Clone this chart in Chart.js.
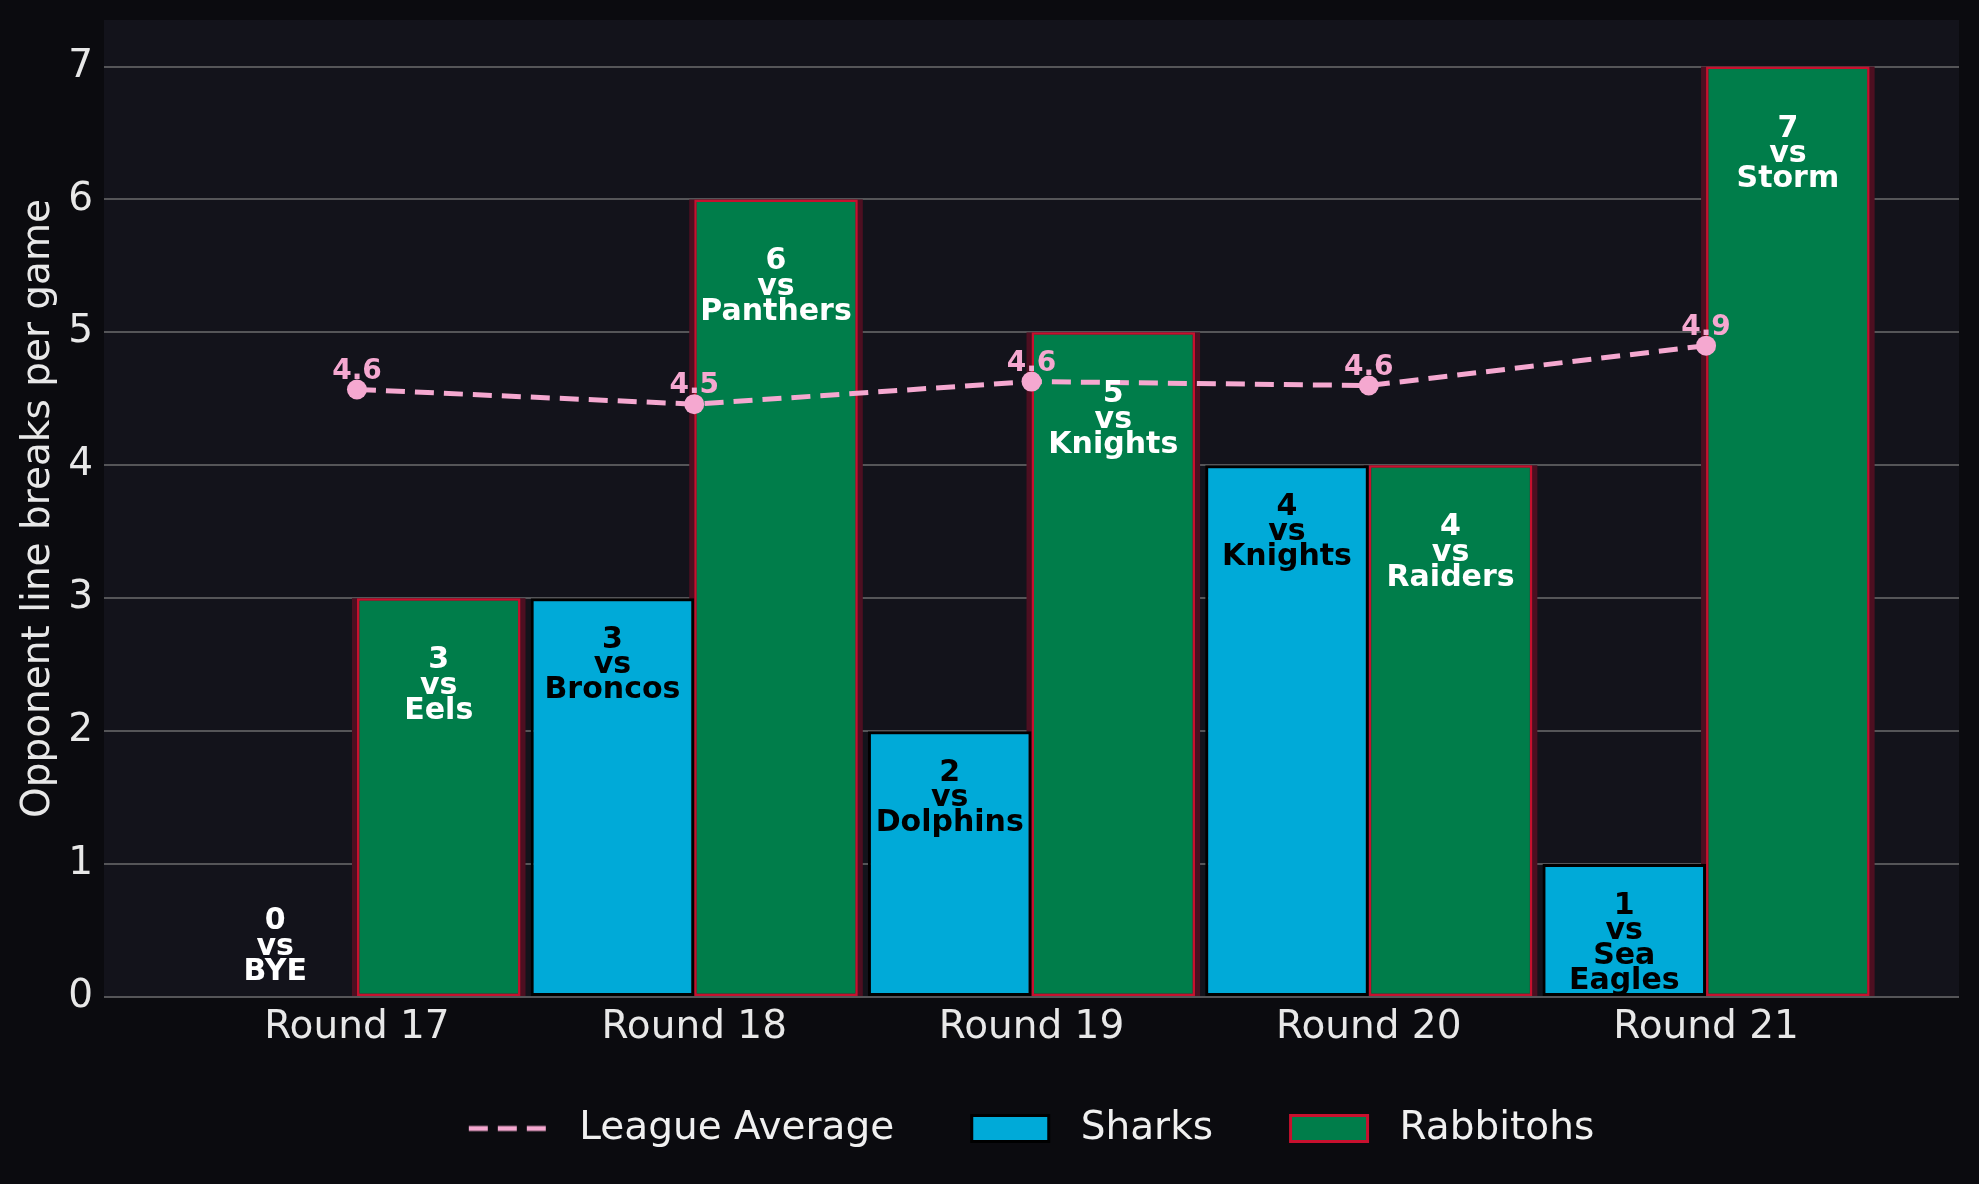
<!DOCTYPE html>
<html><head><meta charset="utf-8">
<script src="https://cdn.jsdelivr.net/npm/chart.js@4.4.1/dist/chart.umd.min.js"></script>
<style>html,body{margin:0;padding:0;background:#0b0b0f;}canvas{display:block;}</style>
</head><body>
<canvas id="c" width="1979" height="1184"></canvas>
<script>
const categories = ['Round 17', 'Round 18', 'Round 19', 'Round 20', 'Round 21'];
const sharksValues = [0, 3, 2, 4, 1];
const rabbitohsValues = [3, 6, 5, 4, 7];
const leagueAverage = [4.57, 4.46, 4.63, 4.60, 4.90];
const sharksOpponents = ['BYE', 'Broncos', 'Dolphins', 'Knights', 'Sea Eagles'];
const rabbitohsOpponents = ['Eels', 'Panthers', 'Knights', 'Raiders', 'Storm'];
const yTickValues = [0, 1, 2, 3, 4, 5, 6, 7];

const FONT = '"DejaVu Sans", "Liberation Sans", sans-serif';
const BLUE = '#00aad8', GREEN = '#007d4a', RED = '#c8102e', PINK = '#f5a8d0';
const TEXT = '#e8e8e8';
const SW_LEFT = 9, SW_W = 100;

function makeSwatch(kind) {
  const c = document.createElement('canvas');
  c.width = SW_W; c.height = kind === 'line' ? 10 : 29;
  const g = c.getContext('2d');
  if (kind === 'line') {
    g.strokeStyle = PINK; g.lineWidth = 5; g.setLineDash([19, 10]);
    g.beginPath(); g.moveTo(SW_LEFT, 5); g.lineTo(SW_LEFT + 79, 5); g.stroke();
  } else {
    g.fillStyle = kind === 'sharks' ? BLUE : GREEN;
    g.fillRect(SW_LEFT, 0, 80, 29);
    g.strokeStyle = kind === 'sharks' ? '#000' : RED;
    g.lineWidth = 3;
    g.strokeRect(SW_LEFT + 1.5, 1.5, 77, 26);
  }
  return c;
}
const swatches = [makeSwatch('line'), makeSwatch('sharks'), makeSwatch('rabbitohs')];

const bgPlugin = {
  id: 'bg',
  afterLayout(chart) {
    if (chart.legend) { chart.legend.left -= SW_LEFT / 2; chart.legend.right -= SW_LEFT / 2; }
  },
  beforeDraw(chart) {
    const {ctx, chartArea: a} = chart;
    ctx.save();
    ctx.fillStyle = '#0b0b0f';
    ctx.fillRect(0, 0, chart.width, chart.height);
    ctx.fillStyle = '#13131b';
    ctx.fillRect(a.left, a.top, a.right - a.left, a.bottom - a.top);
    ctx.restore();
  },
  beforeDatasetsDraw(chart) {
    const ctx = chart.ctx;
    const meta = chart.getDatasetMeta(2);
    ctx.save();
    ctx.fillStyle = '#4d0f21';
    meta.data.forEach(bar => {
      const w = bar.width;
      ctx.fillRect(bar.x - w / 2 - 5, bar.y, w + 10, bar.base - bar.y);
    });
    ctx.restore();
  }
};

const labelPlugin = {
  id: 'labels',
  afterDatasetsDraw(chart) {
    const ctx = chart.ctx;
    ctx.save();
    ctx.textAlign = 'center';
    ctx.textBaseline = 'alphabetic';
    ctx.font = 'bold 30px ' + FONT;
    const lh = 25.3;
    const block = (meta, values, names, color, gap) => {
      meta.data.forEach((bar, i) => {
        const lines = [String(values[i]), 'vs'].concat(names[i].split(' '));
        let y0;
        if (values[i] > 0) { y0 = bar.y + gap; ctx.fillStyle = color; }
        else { y0 = bar.base - 17 - lh * (lines.length - 1); ctx.fillStyle = '#ffffff'; }
        lines.forEach((t, k) => ctx.fillText(t, bar.x, y0 + k * lh));
      });
    };
    block(chart.getDatasetMeta(1), sharksValues, sharksOpponents, '#000000', 49.5);
    block(chart.getDatasetMeta(2), rabbitohsValues, rabbitohsOpponents, '#ffffff', 70);
    ctx.font = 'bold 28px ' + FONT;
    ctx.fillStyle = PINK;
    chart.getDatasetMeta(0).data.forEach((pt, i) => {
      ctx.fillText(leagueAverage[i].toFixed(1), pt.x, pt.y - 11);
    });
    ctx.restore();
  }
};

const toPoints = arr => arr.map((v, i) => ({x: i, y: v}));

new Chart(document.getElementById('c'), {
  type: 'bar',
  data: {
    datasets: [
      {
        type: 'line', label: 'League Average', data: toPoints(leagueAverage),
        borderColor: PINK, backgroundColor: PINK, borderWidth: 5, borderDash: [19, 10],
        pointRadius: 10, pointBackgroundColor: PINK, pointBorderWidth: 0, pointHoverRadius: 10,
        fill: false, tension: 0, order: 0
      },
      {
        label: 'Sharks', data: toPoints(sharksValues),
        backgroundColor: BLUE, borderColor: '#000000', borderWidth: 3, borderSkipped: false,
        categoryPercentage: 0.97, barPercentage: 1.0, order: 1
      },
      {
        label: 'Rabbitohs', data: toPoints(rabbitohsValues),
        backgroundColor: GREEN, borderColor: RED, borderWidth: 2.5, borderSkipped: false,
        categoryPercentage: 0.97, barPercentage: 1.0, order: 1
      }
    ]
  },
  options: {
    responsive: false,
    devicePixelRatio: 1,
    animation: false,
    layout: {padding: {top: 20, right: 20, left: 0, bottom: 26}},
    scales: {
      x: {
        type: 'linear', min: -0.75, max: 4.75, offset: false,
        afterBuildTicks: s => { s.ticks = categories.map((c, i) => ({value: i})); },
        afterFit: s => { s.height = 45; s.paddingLeft = 0; s.paddingRight = 0; },
        ticks: {
          callback: v => categories[v] !== undefined ? categories[v] : '',
          color: TEXT, font: {family: FONT, size: 39}, padding: 7, maxRotation: 0, autoSkip: false
        },
        grid: {display: false, drawTicks: false},
        border: {display: false}
      },
      y: {
        min: 0, max: 7.35,
        afterBuildTicks: s => { s.ticks = yTickValues.map(v => ({value: v})); },
        afterFit: s => { s.width = 104; s.paddingTop = 0; s.paddingBottom = 0; },
        ticks: {color: TEXT, font: {family: FONT, size: 39}, padding: 11, callback: v => String(v)},
        grid: {color: '#555558', lineWidth: 2, drawTicks: false},
        border: {display: false},
        title: {display: true, text: 'Opponent line breaks per game', color: TEXT,
                font: {family: FONT, size: 39}, padding: {top: 15, bottom: 0}}
      }
    },
    plugins: {
      tooltip: {enabled: false},
      legend: {
        position: 'bottom', fullSize: false,
        labels: {
          color: '#f0f0f0', font: {family: FONT, size: 39}, usePointStyle: true,
          pointStyleWidth: SW_W, padding: 67,
          generateLabels: chart => {
            const items = Chart.defaults.plugins.legend.labels.generateLabels(chart);
            items.forEach(it => { it.pointStyle = swatches[it.datasetIndex]; it.fontColor = '#f0f0f0'; });
            return items;
          }
        }
      }
    }
  },
  plugins: [bgPlugin, labelPlugin]
});
</script>
</body></html>
